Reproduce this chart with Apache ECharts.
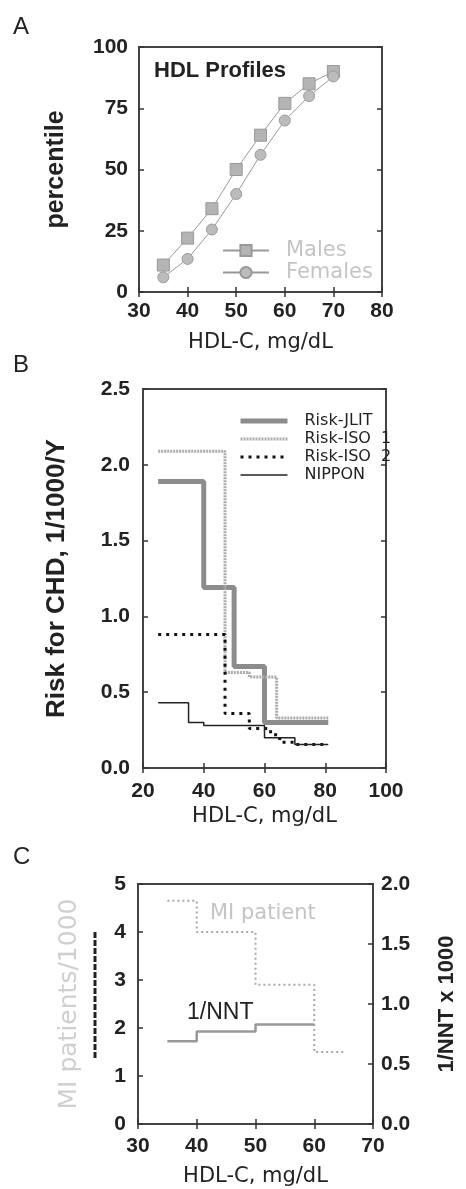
<!DOCTYPE html>
<html>
<head>
<meta charset="utf-8">
<script src="https://cdn.jsdelivr.net/npm/echarts@6/dist/echarts.min.js"></script>
<style>
html, body { margin: 0; padding: 0; background: #fff; }
#main { width: 466px; height: 1189px; }
</style>
</head>
<body>
<div id="main"></div>
<script>
// A: HDL profiles (percentile by HDL-C)
var hdlA = [35, 40, 45, 50, 55, 60, 65, 70];
var males = [11, 22, 34, 50, 64, 77, 85, 90];
var females = [6, 13.5, 25.5, 40, 56, 70, 80, 88];

// B: risk for CHD, step breakpoints (x = HDL-C, y = risk)
var jlitX = [25, 40, 50, 60, 81];
var jlitY = [1.89, 1.19, 0.67, 0.30, 0.30];
var iso1X = [25, 47, 55, 64, 81];
var iso1Y = [2.09, 0.63, 0.60, 0.33, 0.33];
var iso2X = [25, 47, 55, 62, 65, 70, 81];
var iso2Y = [0.88, 0.36, 0.26, 0.22, 0.17, 0.155, 0.155];
var nipponX = [25, 35, 40, 60, 70, 81];
var nipponY = [0.43, 0.30, 0.28, 0.20, 0.155, 0.155];

// C: MI patients and 1/NNT
var miX = [35, 40, 50, 60, 65];
var miY = [4.65, 4.0, 2.9, 1.5, 1.5];
var nntX = [35, 40, 50, 60];
var nntY = [0.69, 0.77, 0.83, 0.83];

function pairs(xs, ys) {
    return xs.map(function (x, i) { return [x, ys[i]]; });
}

var FONT = 'Liberation Sans';
var tick = { inside: true, length: 5, lineStyle: { color: '#333', width: 1.5 } };
var lbl = { fontFamily: FONT, fontWeight: 'bold', fontSize: 21, color: '#222' };

function xAx(grid, min, max, step, margin, gap) {
    return {
        type: 'value', gridIndex: grid, min: min, max: max, interval: step,
        axisLine: { show: false }, splitLine: { show: false }, axisTick: tick,
        axisLabel: Object.assign({ margin: margin }, lbl),
        name: 'HDL-C, mg/dL', nameLocation: 'middle', nameGap: gap,
        nameTextStyle: { fontFamily: 'DejaVu Sans', fontSize: 21, color: '#222' }
    };
}
function mirrorX(grid, min, max, step) {
    return {
        type: 'value', gridIndex: grid, min: min, max: max, interval: step, position: 'top',
        axisLine: { show: false }, splitLine: { show: false }, axisTick: tick,
        axisLabel: { show: false }
    };
}
function mirrorY(grid, min, max, step) {
    return {
        type: 'value', gridIndex: grid, min: min, max: max, interval: step, position: 'right',
        axisLine: { show: false }, splitLine: { show: false }, axisTick: tick,
        axisLabel: { show: false }
    };
}

var myChart = echarts.init(document.getElementById('main'));

var option = {
    animation: false,
    grid: [
        { left: 139, top: 47, width: 243, height: 245, show: true, borderColor: '#444', borderWidth: 2 },
        { left: 143, top: 389, width: 243, height: 379, show: true, borderColor: '#444', borderWidth: 2 },
        { left: 138, top: 884, width: 242, height: 240, show: true, borderColor: '#444', borderWidth: 2 }
    ],
    xAxis: [
        xAx(0, 30, 80, 10, 9, 40),
        xAx(1, 20, 100, 20, 13, 38),
        xAx(2, 30, 70, 10, 12, 42),
        mirrorX(0, 30, 80, 10),
        mirrorX(1, 20, 100, 20),
        mirrorX(2, 30, 70, 10)
    ],
    yAxis: [
        {
            type: 'value', gridIndex: 0, min: 0, max: 100, interval: 25,
            axisLine: { show: false }, splitLine: { show: false }, axisTick: tick,
            axisLabel: Object.assign({ margin: 11 }, lbl),
            name: 'percentile', nameLocation: 'middle', nameGap: 70,
            nameTextStyle: { fontFamily: FONT, fontWeight: 'bold', fontSize: 25, color: '#222' }
        },
        {
            type: 'value', gridIndex: 1, min: 0, max: 2.5, interval: 0.5,
            axisLine: { show: false }, splitLine: { show: false }, axisTick: tick,
            axisLabel: Object.assign({ margin: 13, formatter: function (v) { return v.toFixed(1); } }, lbl),
            name: 'Risk for CHD, 1/1000/Y', nameLocation: 'middle', nameGap: 73,
            nameTextStyle: { fontFamily: FONT, fontWeight: 'bold', fontSize: 26, color: '#222' }
        },
        {
            type: 'value', gridIndex: 2, min: 0, max: 5, interval: 1,
            axisLine: { show: false }, splitLine: { show: false }, axisTick: tick,
            axisLabel: Object.assign({ margin: 12 }, lbl),
            name: 'MI patients/1000', nameLocation: 'middle', nameGap: 56,
            nameTextStyle: { fontFamily: 'DejaVu Sans', fontSize: 25, color: '#cfcfcf' }
        },
        {
            type: 'value', gridIndex: 2, min: 0, max: 2, interval: 0.5, position: 'right',
            axisLine: { show: false }, splitLine: { show: false }, axisTick: tick,
            axisLabel: Object.assign({ margin: 8, formatter: function (v) { return v.toFixed(1); } }, lbl),
            name: '1/NNT x 1000', nameLocation: 'middle', nameGap: 63,
            nameTextStyle: { fontFamily: FONT, fontWeight: 'bold', fontSize: 22, color: '#222' }
        },
        mirrorY(0, 0, 100, 25),
        mirrorY(1, 0, 2.5, 0.5)
    ],
    legend: [
        {
            data: ['Males', 'Females'], orient: 'vertical', left: 217, top: 235,
            itemWidth: 46, itemHeight: 14, itemGap: 1,
            textStyle: { fontFamily: 'DejaVu Sans', fontSize: 21, color: '#c4c4c4', padding: [0, 0, 0, 12] }
        },
        {
            data: [
                { name: 'Risk-JLIT', lineStyle: { width: 5 } },
                { name: 'Risk-ISO  1', lineStyle: { width: 3 } },
                { name: 'Risk-ISO  2', lineStyle: { width: 3 } },
                { name: 'NIPPON', lineStyle: { width: 1.5 } }
            ],
            orient: 'vertical', left: 233, top: 408,
            itemWidth: 47, itemHeight: 14, itemGap: 2,
            itemStyle: { opacity: 0 },
            textStyle: { fontFamily: 'DejaVu Sans', fontSize: 16, color: '#222', padding: [0, 0, 0, 12] }
        }
    ],
    graphic: [
        { type: 'text', left: 13, top: 15, style: { text: 'A', font: '24px "Liberation Sans"', fill: '#222' } },
        { type: 'text', left: 13, top: 353, style: { text: 'B', font: '24px "Liberation Sans"', fill: '#222' } },
        { type: 'text', left: 13, top: 845, style: { text: 'C', font: '24px "Liberation Sans"', fill: '#222' } },
        { type: 'text', left: 154, top: 60, style: { text: 'HDL Profiles', font: 'bold 22px "Liberation Sans"', fill: '#222' } },
        { type: 'text', left: 210, top: 903, style: { text: 'MI patient', font: '21px "DejaVu Sans"', fill: '#c4c4c4' } },
        { type: 'text', left: 187, top: 1001, style: { text: '1/NNT', font: '23px "Liberation Sans"', fill: '#222' } },
        { type: 'line', shape: { x1: 95, y1: 932, x2: 95, y2: 1060 }, style: { stroke: '#222', lineWidth: 3, lineDash: [6, 2] } }
    ],
    series: [
        {
            name: 'Males', type: 'line', xAxisIndex: 0, yAxisIndex: 0,
            data: pairs(hdlA, males), symbol: 'rect', symbolSize: 12,
            lineStyle: { color: '#999', width: 1 },
            itemStyle: { color: '#b4b4b4', borderColor: '#999', borderWidth: 1 }
        },
        {
            name: 'Females', type: 'line', xAxisIndex: 0, yAxisIndex: 0,
            data: pairs(hdlA, females), symbol: 'circle', symbolSize: 11,
            lineStyle: { color: '#999', width: 1 },
            itemStyle: { color: '#bcbcbc', borderColor: '#999', borderWidth: 1 }
        },
        {
            name: 'Risk-JLIT', type: 'line', xAxisIndex: 1, yAxisIndex: 1, step: 'end',
            data: pairs(jlitX, jlitY), symbol: 'none',
            lineStyle: { color: '#8c8c8c', width: 5, cap: 'butt' }, itemStyle: { color: '#8c8c8c' }
        },
        {
            name: 'Risk-ISO  1', type: 'line', xAxisIndex: 1, yAxisIndex: 1, step: 'end',
            data: pairs(iso1X, iso1Y), symbol: 'none',
            lineStyle: { color: '#ababab', width: 3, type: [2, 1] }, itemStyle: { color: '#ababab' }
        },
        {
            name: 'Risk-ISO  2', type: 'line', xAxisIndex: 1, yAxisIndex: 1, step: 'end',
            data: pairs(iso2X, iso2Y), symbol: 'none',
            lineStyle: { color: '#111', width: 3, type: [3, 5] }, itemStyle: { color: '#111' }
        },
        {
            name: 'NIPPON', type: 'line', xAxisIndex: 1, yAxisIndex: 1, step: 'end',
            data: pairs(nipponX, nipponY), symbol: 'none',
            lineStyle: { color: '#222', width: 1.5 }, itemStyle: { color: '#222' }
        },
        {
            name: 'MI patients', type: 'line', xAxisIndex: 2, yAxisIndex: 2, step: 'end',
            data: pairs(miX, miY), symbol: 'none',
            lineStyle: { color: '#a8a8a8', width: 2, type: [2, 3] }
        },
        {
            name: '1/NNT', type: 'line', xAxisIndex: 2, yAxisIndex: 3, step: 'end',
            data: pairs(nntX, nntY), symbol: 'none',
            lineStyle: { color: '#999', width: 2.5 }
        }
    ]
};

myChart.setOption(option);
</script>
</body>
</html>
